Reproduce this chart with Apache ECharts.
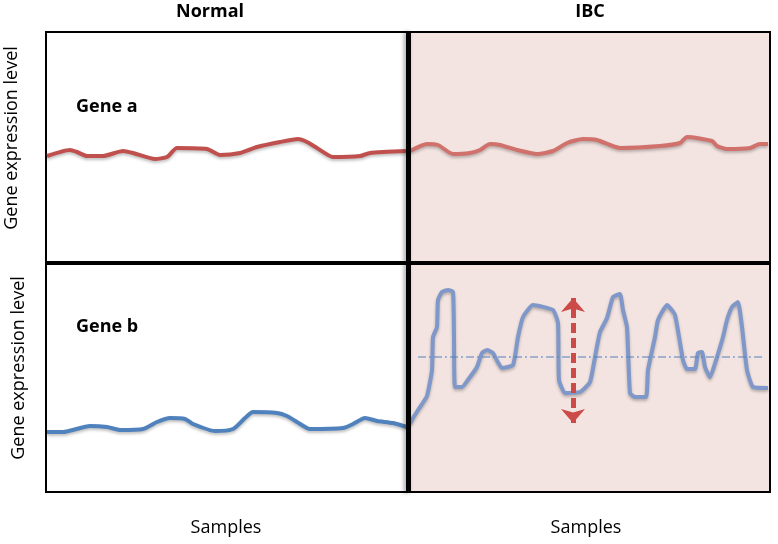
<!DOCTYPE html>
<html><head><meta charset="utf-8">
<script src="https://cdn.jsdelivr.net/npm/echarts@6/dist/echarts.min.js"></script>
<style>html,body{margin:0;padding:0;background:#fff}#c{width:778px;height:544px}</style>
</head><body><div id="c"></div>
<script>
// ---- text ----
const panelTitles = ['Normal', 'IBC'];
const geneNames = ['Gene a', 'Gene b'];
const xAxisTitle = 'Samples';
const yAxisTitle = 'Gene expression level';

// ---- Gene a, Normal ----
const geneANormalSamples = [1, 24, 31, 41, 57, 77, 87, 109, 121, 131, 161, 174, 194, 211, 234, 252, 261, 271, 287, 314, 324, 361];
const geneANormalLevels  = [107, 113, 111, 107, 107, 112, 110, 104, 106, 115, 114, 108, 110, 116, 121, 124, 121, 115, 106, 107, 110, 112];

// ---- Gene a, IBC ----
const geneAIbcSamples = [0, 17, 28, 43, 60, 70, 80, 90, 107, 127, 143, 157, 173, 187, 210, 250, 270, 277, 302, 307, 317, 340, 350, 358];
const geneAIbcLevels  = [112, 119, 118, 109, 110, 113, 119, 118, 113, 109, 112, 120, 124, 123, 115, 117, 120, 126, 122, 117, 114, 115, 119, 119];

// ---- Gene b, Normal ----
const geneBNormalSamples = [1, 17, 44, 61, 74, 97, 111, 124, 139, 147, 169, 187, 199, 207, 231, 241, 251, 264, 297, 307, 319, 331, 347, 361];
const geneBNormalLevels  = [60, 60, 66, 65, 62, 63, 70, 74, 73, 68, 61, 63, 74, 80, 79, 76, 70, 63, 64, 68, 74, 71, 69, 65];

// ---- Gene b, IBC ----
const geneBIbcSamples = [0, 3, 10, 17, 22, 23, 27, 28, 32, 38, 43, 44, 45, 52, 60, 67, 72, 77, 83, 92, 103, 108, 113, 123, 143, 148, 149, 155, 170, 180, 185, 190, 197, 203, 210, 213, 217, 220, 225, 236, 238, 245, 248, 257, 265, 273, 277, 285, 288, 292, 295, 300, 307, 313, 317, 322, 328, 332, 337, 343, 358];
const geneBIbcLevels  = [68, 74, 85, 96, 122, 155, 165, 192, 200, 202, 200, 155, 105, 105, 115, 125, 139, 142, 139, 124, 127, 155, 175, 187, 182, 169, 112, 99, 100, 110, 135, 160, 174, 195, 198, 182, 165, 99, 95, 95, 122, 155, 172, 187, 177, 132, 123, 123, 139, 140, 125, 115, 135, 155, 172, 185, 190, 165, 122, 105, 104];

// ---- Gene b, IBC mean level and spread arrow ----
const ibcMeanSamples = [8, 355];
const ibcMeanLevel = 135;
const spreadSample = 163;
const spreadLevels = [69, 194];

const zip = (xs, ys) => xs.map((x, i) => [x, ys[i]]);
const PINK = '#f3e4e1';
const FONT = '"Open Sans", "Liberation Sans", sans-serif';

const gridDefs = [
  { left: 46, top: 32, width: 362, height: 231, bg: '#ffffff' },
  { left: 410, top: 32, width: 360, height: 231, bg: PINK },
  { left: 46, top: 263, width: 362, height: 229, bg: '#ffffff' },
  { left: 410, top: 263, width: 360, height: 229, bg: PINK }
];

const lineShadow = { shadowColor: 'rgba(0,0,0,0.25)', shadowBlur: 3, shadowOffsetY: 2 };

const option = {
  animation: false,
  grid: gridDefs.map(g => ({
    left: g.left, top: g.top, width: g.width, height: g.height,
    show: true, backgroundColor: g.bg, borderColor: '#000', borderWidth: 2
  })),
  xAxis: gridDefs.map((g, i) => ({
    type: 'value', gridIndex: i, min: 0, max: g.width, show: false
  })),
  yAxis: gridDefs.map((g, i) => ({
    type: 'value', gridIndex: i, min: 0, max: g.height, show: false
  })),
  series: [
    { type: 'line', xAxisIndex: 0, yAxisIndex: 0, data: zip(geneANormalSamples, geneANormalLevels),
      symbol: 'none', smooth: 0.2, lineStyle: Object.assign({ color: '#c0504d', width: 4 }, lineShadow) },
    { type: 'line', xAxisIndex: 1, yAxisIndex: 1, data: zip(geneAIbcSamples, geneAIbcLevels),
      symbol: 'none', smooth: 0.2, lineStyle: Object.assign({ color: '#d0716c', width: 4 }, lineShadow) },
    { type: 'line', xAxisIndex: 2, yAxisIndex: 2, data: zip(geneBNormalSamples, geneBNormalLevels),
      symbol: 'none', smooth: 0.2, lineStyle: Object.assign({ color: '#4f81bd', width: 4 }, lineShadow) },
    { type: 'line', xAxisIndex: 3, yAxisIndex: 3, data: zip(geneBIbcSamples, geneBIbcLevels),
      symbol: 'none', smooth: 0.15, lineStyle: Object.assign({ color: '#7f98c9', width: 4 }, lineShadow) },
    { type: 'line', xAxisIndex: 3, yAxisIndex: 3, data: ibcMeanSamples.map(x => [x, ibcMeanLevel]),
      symbol: 'none', z: 3, lineStyle: { color: '#4f81bd', width: 1, type: [8, 3, 2, 3] } },
    { type: 'line', xAxisIndex: 3, yAxisIndex: 3, data: [], symbol: 'none', z: 4,
      markLine: {
        silent: true, animation: false,
        symbol: ['arrow', 'arrow'], symbolSize: [18, 14],
        label: { show: false },
        lineStyle: { color: '#cc4a47', width: 5, type: [10, 5] },
        emphasis: { disabled: true },
        data: [[{ coord: [spreadSample, spreadLevels[0]] }, { coord: [spreadSample, spreadLevels[1]] }]]
      } }
  ],
  graphic: [
    { type: 'rect', z: 100, shape: { x: 406, y: 32, width: 5, height: 461 },
      style: { fill: '#000', shadowColor: 'rgba(0,0,0,0.35)', shadowBlur: 4, shadowOffsetX: -2 } },
    { type: 'rect', z: 100, shape: { x: 46, y: 261, width: 724, height: 4 }, style: { fill: '#000' } },
    { type: 'text', z: 100, x: 210, y: 12, style: { text: panelTitles[0], font: 'bold 18px ' + FONT, fill: '#000', textAlign: 'center', textVerticalAlign: 'middle' } },
    { type: 'text', z: 100, x: 590, y: 12, style: { text: panelTitles[1], font: 'bold 18px ' + FONT, fill: '#000', textAlign: 'center', textVerticalAlign: 'middle' } },
    { type: 'text', z: 100, x: 76, y: 107, style: { text: geneNames[0], font: 'bold 18px ' + FONT, fill: '#000', textAlign: 'left', textVerticalAlign: 'middle' } },
    { type: 'text', z: 100, x: 76, y: 327, style: { text: geneNames[1], font: 'bold 18px ' + FONT, fill: '#000', textAlign: 'left', textVerticalAlign: 'middle' } },
    { type: 'text', z: 100, x: 226, y: 528, style: { text: xAxisTitle, font: '18px ' + FONT, fill: '#000', textAlign: 'center', textVerticalAlign: 'middle' } },
    { type: 'text', z: 100, x: 586, y: 528, style: { text: xAxisTitle, font: '18px ' + FONT, fill: '#000', textAlign: 'center', textVerticalAlign: 'middle' } },
    { type: 'text', z: 100, x: 12, y: 138, rotation: Math.PI / 2, style: { text: yAxisTitle, font: '18px ' + FONT, fill: '#000', textAlign: 'center', textVerticalAlign: 'middle' } },
    { type: 'text', z: 100, x: 19, y: 368, rotation: Math.PI / 2, style: { text: yAxisTitle, font: '18px ' + FONT, fill: '#000', textAlign: 'center', textVerticalAlign: 'middle' } }
  ]
};

const chart = echarts.init(document.getElementById('c'), null, { renderer: 'canvas' });
chart.setOption(option);
</script>
</body></html>
